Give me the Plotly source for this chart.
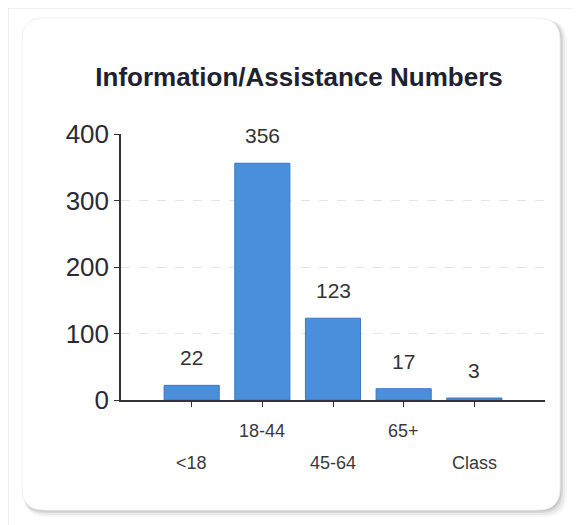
import plotly.graph_objects as go

categories = ["<18", "18-44", "45-64", "65+", "Class"]
values = [22, 356, 123, 17, 3]
y_ticks = [0, 100, 200, 300, 400]
label_row = [1, 0, 1, 0, 1]  # 0 = upper row, 1 = lower row (staggered labels)

OFF = 8  # page body margin
W, H = 581 - OFF, 525 - OFF
L, R, T, B = 113, 36, 126, 125
PW, PH = W - L - R, H - T - B


def px(x):  # page pixel -> paper
    return (x - OFF - L) / PW


def py(y):
    return (H - B - (y - OFF)) / PH


def rrect(x0, y0, x1, y1, r):
    def P(x, y):
        return f"{px(x)},{py(y)}"
    return (f"M {P(x0 + r, y0)} L {P(x1 - r, y0)} Q {P(x1, y0)} {P(x1, y0 + r)} "
            f"L {P(x1, y1 - r)} Q {P(x1, y1)} {P(x1 - r, y1)} "
            f"L {P(x0 + r, y1)} Q {P(x0, y1)} {P(x0, y1 - r)} "
            f"L {P(x0, y0 + r)} Q {P(x0, y0)} {P(x0 + r, y0)} Z")


FONT = "Liberation Sans, Arial, sans-serif"

fig = go.Figure()
fig.add_trace(go.Bar(
    x=categories, y=values,
    marker=dict(color="#4a8fdb", line=dict(color="#3a78c2", width=1)),
    width=0.78, hoverinfo="x+y",
))

shapes = []
shapes.append(dict(type="line", xref="paper", yref="paper", x0=px(8), y0=py(8), x1=px(581), y1=py(8),
                   line=dict(color="#e2e2e2", width=1), layer="below"))
shapes.append(dict(type="line", xref="paper", yref="paper", x0=px(8), y0=py(8), x1=px(8), y1=py(525),
                   line=dict(color="#e2e2e2", width=1), layer="below"))
for off, col in [(7, "rgba(0,0,0,0.03)"), (5, "rgba(0,0,0,0.05)"), (3, "rgba(0,0,0,0.07)"), (1.5, "rgba(0,0,0,0.08)")]:
    shapes.append(dict(type="path", xref="paper", yref="paper",
                       path=rrect(22 + off * 0.3, 18 + off * 0.3, 560 + off, 510 + off, 22),
                       fillcolor=col, line=dict(width=0), layer="below"))
shapes.append(dict(type="path", xref="paper", yref="paper", path=rrect(22, 18, 560, 510, 22),
                   fillcolor="white", line=dict(color="#f0f0f0", width=1), layer="below"))

annotations = []
for c, v in zip(categories, values):
    annotations.append(dict(x=c, y=v, xref="x", yref="y", text=str(v), showarrow=False,
                            yanchor="bottom", yshift=14,
                            font=dict(family=FONT, size=21, color="#333333")))
for c, row in zip(categories, label_row):
    annotations.append(dict(x=c, y=0, xref="x", yref="y", text=c, showarrow=False,
                            yanchor="middle", yshift=-31 if row == 0 else -63,
                            font=dict(family=FONT, size=18, color="#3a3a3a")))

fig.update_layout(
    width=W, height=H, autosize=False,
    margin=dict(l=L, r=R, t=T, b=B),
    paper_bgcolor="white", plot_bgcolor="rgba(0,0,0,0)",
    showlegend=False,
    title=dict(text="<b>Information/Assistance Numbers</b>", x=(299 - OFF) / W, xanchor="center",
               y=1 - (77 - OFF) / H, yanchor="middle", yref="container",
               font=dict(family=FONT, size=26, color="#1e2230")),
    xaxis=dict(type="category", range=[-1, 5.0], tickmode="array", tickvals=categories,
               showticklabels=False, ticks="outside", ticklen=5, tickcolor="#333",
               showline=True, linecolor="#3a2f3d", linewidth=1.5, showgrid=False, zeroline=False),
    yaxis=dict(range=[0, 400], tickvals=y_ticks, ticks="outside", ticklen=5, tickcolor="#333",
               showline=True, linecolor="#333", linewidth=1.5,
               showgrid=True, gridcolor="#e4e4e4", griddash="dash", gridwidth=1, zeroline=False,
               tickfont=dict(family=FONT, size=26, color="#2a2a35")),
    shapes=shapes, annotations=annotations, bargap=0.22,
)

fig.write_html("out.html")
